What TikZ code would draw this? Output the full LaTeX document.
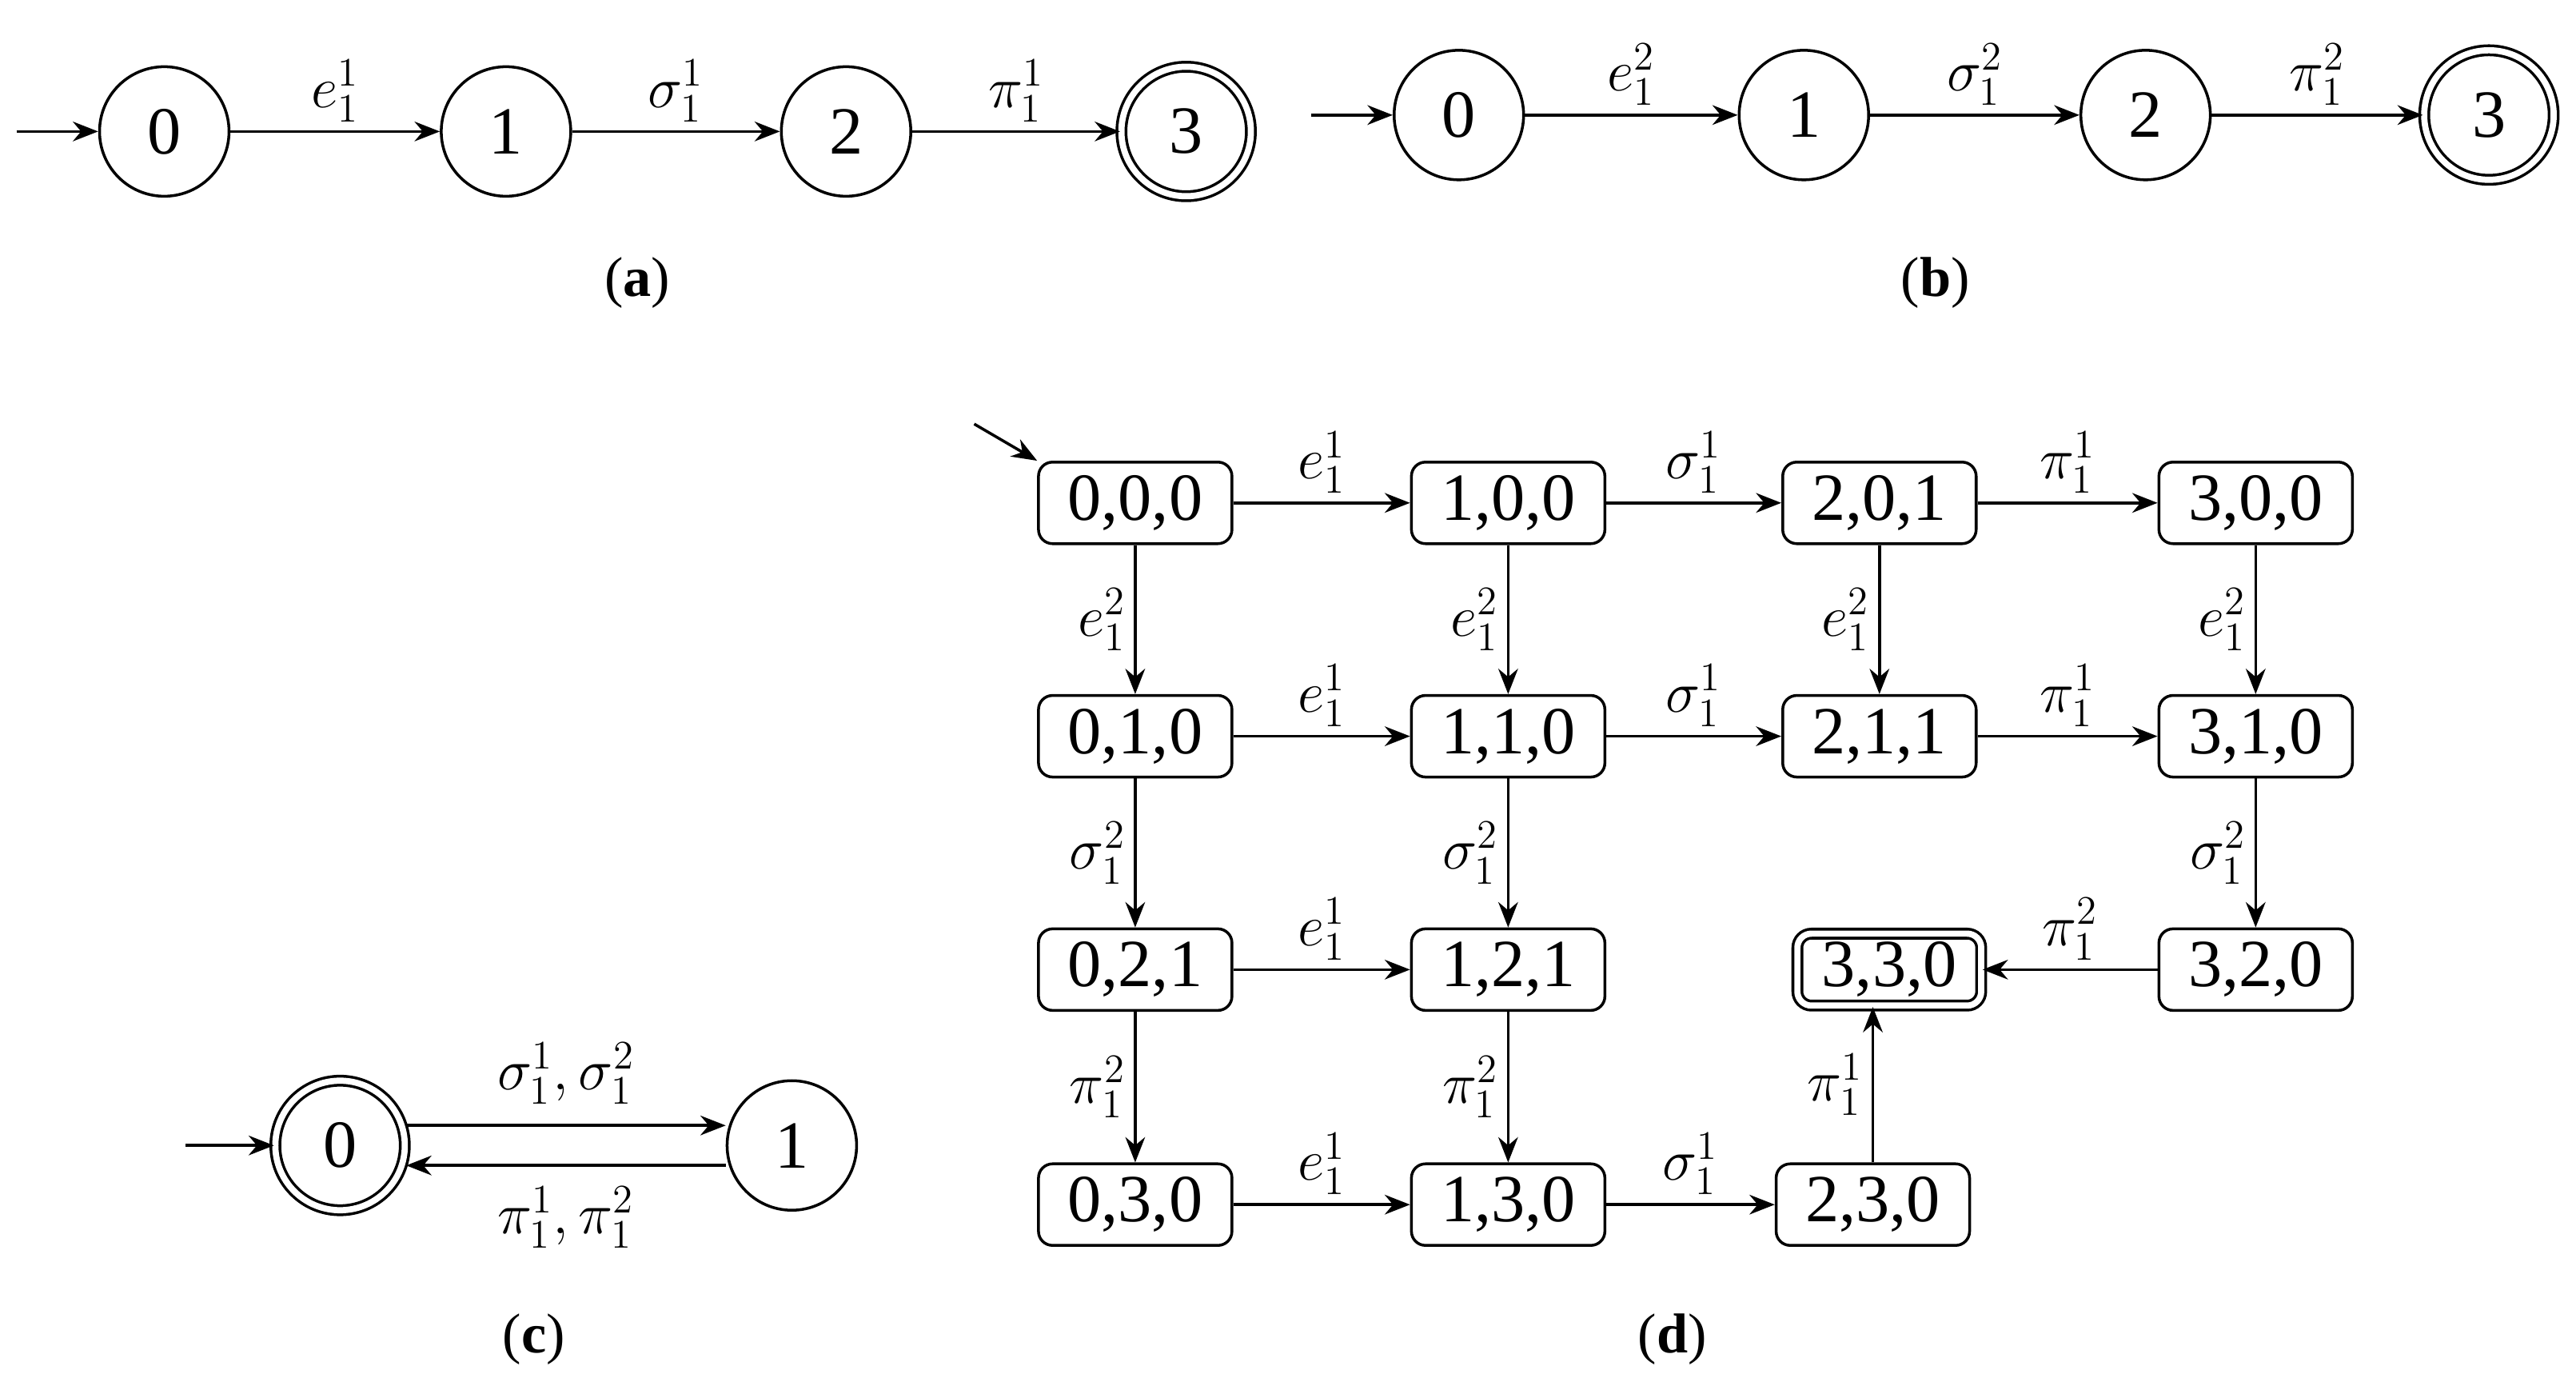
\documentclass[tikz,border=0pt]{standalone}
\usepackage{fontspec}
\setmainfont{Liberation Serif}
\usetikzlibrary{arrows.meta}
\tikzset{
  st/.style={circle, draw, line width=1pt, minimum size=1.62cm, inner sep=0pt, font=\fontsize{24}{28}\selectfont},
  acc/.style={st, double, double distance=2.2pt},
  bx/.style={rectangle, rounded corners=5pt, draw, line width=1pt, minimum width=2.42cm, minimum height=1.02cm, inner sep=0pt, font=\fontsize{24}{28}\selectfont},
  bxacc/.style={bx, double, double distance=2.2pt, minimum width=2.3cm, minimum height=0.9cm},
  arr/.style={-{Stealth[length=9pt,width=7pt]}, line width=1pt},
  lb/.style={font=\fontsize{20}{24}\selectfont, inner sep=3pt},
  captxt/.style={font=\fontsize{20}{24}\selectfont}
}
\begin{document}
\begin{tikzpicture}[x=0.02055cm, y=-0.02055cm]
\useasboundingbox (0,0) rectangle (1568,848);
% (a)
\node[st] (a0) at (100,80) {0};
\node[st] (a1) at (308,80) {1};
\node[st] (a2) at (515,80) {2};
\node[acc] (a3) at (722,80) {3};
\coordinate (ai) at (10,80);
\draw[arr] (ai) -- (a0);
\draw[arr] (a0) -- node[lb, above] {$e_1^1$} (a1);
\draw[arr] (a1) -- node[lb, above] {$\sigma_1^1$} (a2);
\draw[arr] (a2) -- node[lb, above] {$\pi_1^1$} (a3);
\node[captxt] (ca) at (388,172) {(\textbf{a})};
% (b)
\node[st] (b0) at (888,70) {0};
\node[st] (b1) at (1098,70) {1};
\node[st] (b2) at (1306,70) {2};
\node[acc] (b3) at (1515,70) {3};
\coordinate (bi) at (798,70);
\draw[arr] (bi) -- (b0);
\draw[arr] (b0) -- node[lb, above] {$e_1^2$} (b1);
\draw[arr] (b1) -- node[lb, above] {$\sigma_1^2$} (b2);
\draw[arr] (b2) -- node[lb, above] {$\pi_1^2$} (b3);
\node[captxt] (cb) at (1178,172) {(\textbf{b})};
% (c)
\node[acc] (c0) at (207,697) {0};
\node[st] (c1) at (482,697) {1};
\coordinate (ci) at (113,697);
\draw[arr] (ci) -- (c0);
\draw[arr] ([yshift=0.25cm]c0.east) -- node[lb, above=4pt] {$\sigma_1^1,\sigma_1^2$} ([yshift=0.25cm]c1.west);
\draw[arr] ([yshift=-0.25cm]c1.west) -- node[lb, below=4pt] {$\pi_1^1,\pi_1^2$} ([yshift=-0.25cm]c0.east);
\node[captxt] (cc) at (325,815) {(\textbf{c})};
% (d)
\node[bx] (n000) at (691,306) {0,0,0};
\node[bx] (n100) at (918,306) {1,0,0};
\node[bx] (n201) at (1144,306) {2,0,1};
\node[bx] (n300) at (1373,306) {3,0,0};
\node[bx] (n010) at (691,448) {0,1,0};
\node[bx] (n110) at (918,448) {1,1,0};
\node[bx] (n211) at (1144,448) {2,1,1};
\node[bx] (n310) at (1373,448) {3,1,0};
\node[bx] (n021) at (691,590) {0,2,1};
\node[bx] (n121) at (918,590) {1,2,1};
\node[bxacc] (n330) at (1150,590) {3,3,0};
\node[bx] (n320) at (1373,590) {3,2,0};
\node[bx] (n030) at (691,733) {0,3,0};
\node[bx] (n130) at (918,733) {1,3,0};
\node[bx] (n230) at (1140,733) {2,3,0};
\coordinate (di) at (593,258);
\draw[arr] (di) -- (n000.north west);
% horizontal
\draw[arr] (n000) -- node[lb, above] {$e_1^1$} (n100);
\draw[arr] (n100) -- node[lb, above] {$\sigma_1^1$} (n201);
\draw[arr] (n201) -- node[lb, above] {$\pi_1^1$} (n300);
\draw[arr] (n010) -- node[lb, above] {$e_1^1$} (n110);
\draw[arr] (n110) -- node[lb, above] {$\sigma_1^1$} (n211);
\draw[arr] (n211) -- node[lb, above] {$\pi_1^1$} (n310);
\draw[arr] (n021) -- node[lb, above] {$e_1^1$} (n121);
\draw[arr] (n320) -- node[lb, above] {$\pi_1^2$} (n330);
\draw[arr] (n030) -- node[lb, above] {$e_1^1$} (n130);
\draw[arr] (n130) -- node[lb, above] {$\sigma_1^1$} (n230);
\draw[arr] (n230) -- node[lb, left] {$\pi_1^1$} (n230 |- n330.south);
% vertical
\draw[arr] (n000) -- node[lb, left] {$e_1^2$} (n010);
\draw[arr] (n100) -- node[lb, left] {$e_1^2$} (n110);
\draw[arr] (n201) -- node[lb, left] {$e_1^2$} (n211);
\draw[arr] (n300) -- node[lb, left] {$e_1^2$} (n310);
\draw[arr] (n010) -- node[lb, left] {$\sigma_1^2$} (n021);
\draw[arr] (n110) -- node[lb, left] {$\sigma_1^2$} (n121);
\draw[arr] (n310) -- node[lb, left] {$\sigma_1^2$} (n320);
\draw[arr] (n021) -- node[lb, left] {$\pi_1^2$} (n030);
\draw[arr] (n121) -- node[lb, left] {$\pi_1^2$} (n130);
\node[captxt] (cd) at (1018,815) {(\textbf{d})};
\end{tikzpicture}
\end{document}
